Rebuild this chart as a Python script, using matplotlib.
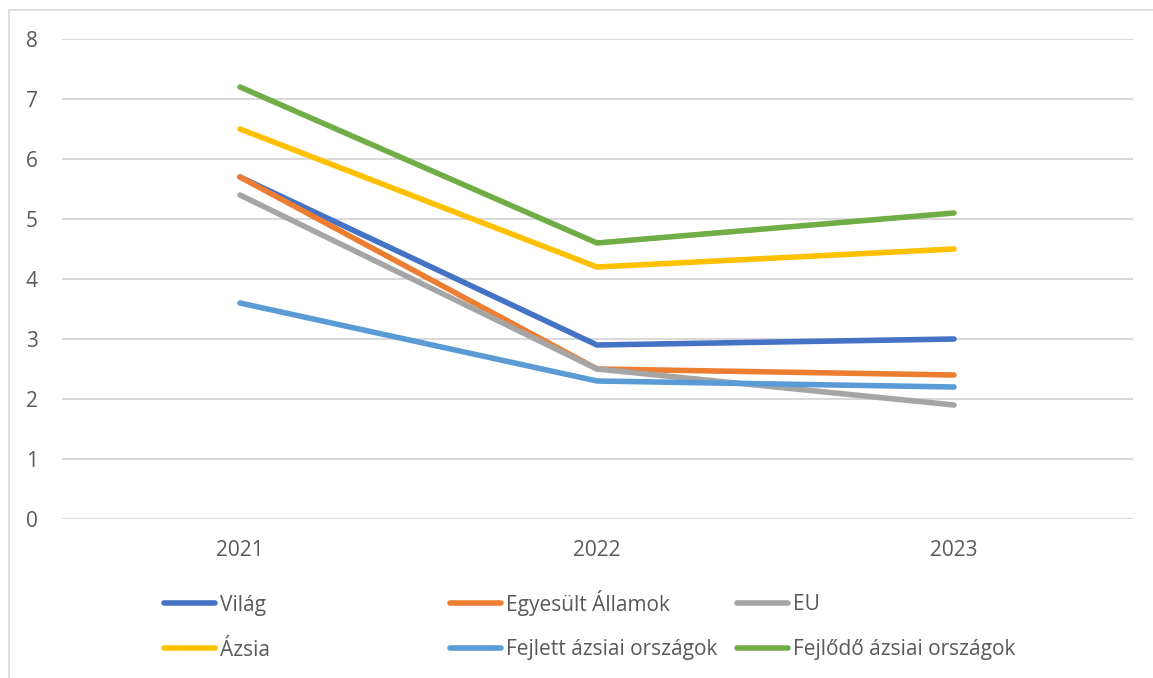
#! /usr/bin/env python3
# coding: utf-8

import matplotlib
matplotlib.use('Agg')
import matplotlib.pyplot as plt
from matplotlib.patches import Rectangle

YEARS = ['2021', '2022', '2023']
SERIES = ['Világ', 'Egyesült Államok', 'EU', 'Ázsia',
          'Fejlett ázsiai országok', 'Fejlődő ázsiai országok']
VILAG = [5.7, 2.9, 3.0]
USA = [5.7, 2.5, 2.4]
EU = [5.4, 2.5, 1.9]
AZSIA = [6.5, 4.2, 4.5]
FEJLETT = [3.6, 2.3, 2.2]
FEJLODO = [7.2, 4.6, 5.1]
COLORS = ['#4472C4', '#ED7D31', '#A5A5A5', '#FFC000', '#5B9BD5', '#70AD47']

W, H = 1153, 678
TEXT = '#595959'
GRID = '#D9D9D9'

plt.rcParams['font.family'] = ['Open Sans', 'DejaVu Sans']
plt.rcParams['font.size'] = 15

fig = plt.figure(figsize=(W / 100, H / 100), dpi=100)
ax = fig.add_axes([61.5 / W, 1 - 519 / H, (1132.5 - 61.5) / W, (519 - 39) / H])

x = list(range(len(YEARS)))
lines = []
for i, (name, vals) in enumerate(zip(SERIES, [VILAG, USA, EU, AZSIA, FEJLETT, FEJLODO])):
    ln, = ax.plot(x, vals, color=COLORS[i], lw=4.0, solid_capstyle='round',
                  solid_joinstyle='round', label=name, zorder=3 + i)
    lines.append(ln)

ax.set_xlim(-0.5, 2.5)
ax.set_ylim(0, 8)
ax.set_yticks(range(0, 9))
ax.set_xticks(x)
ax.set_xticklabels(YEARS)
ax.grid(axis='y', color=GRID, lw=1.5)
ax.set_axisbelow(True)
for s in ax.spines.values():
    s.set_visible(False)
ax.tick_params(axis='y', length=0, pad=17, colors=TEXT)
ax.tick_params(axis='x', length=0, pad=15, colors=TEXT)

# legend: one small legend per entry, three columns by two rows
# anchored at the bottom so accents on capitals don't shift the rows
col_x = [164, 450, 737]
row_bottom = [615.5, 660.5]
for i, ln in enumerate(lines):
    cx = col_x[i % 3]
    cy = row_bottom[i // 3]
    fig.legend(handles=[ln], loc='lower left',
               bbox_to_anchor=(cx / W, 1 - cy / H),
               frameon=False, handlelength=2.45, handletextpad=0.25,
               borderaxespad=0, borderpad=0, labelcolor=TEXT)

fig.add_artist(Rectangle((9 / W, -0.1), 1.2, 1.1 - 10 / H, transform=fig.transFigure,
                         fill=False, edgecolor=GRID, lw=1.2))

fig.savefig('out.png', dpi=100)
